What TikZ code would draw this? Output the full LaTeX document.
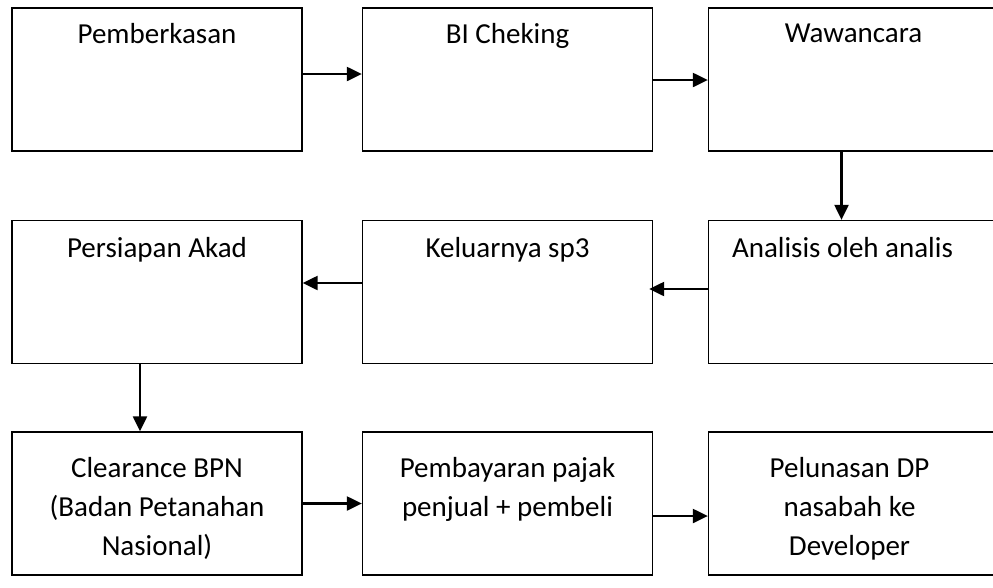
\documentclass[tikz,border=0pt]{standalone}
\usepackage{fontspec}
\setmainfont{Carlito}
\usetikzlibrary{arrows.meta}

\tikzset{
  stepbox/.style={draw=black, line width=1.3pt, minimum width=290pt, minimum height=143pt, inner sep=0pt},
  steptext/.style={anchor=north, inner sep=0pt, align=center, font=\fontsize{29}{39}\selectfont},
  arr/.style={line width=2.2pt, -{Triangle[length=15pt,width=14pt]}}
}

\begin{document}
\begin{tikzpicture}[x=1pt, y=-1pt]
  \useasboundingbox (0,0) rectangle (993,587);
  \clip (0,0) rectangle (993,587);

  % first row
  \node[stepbox] (b1) at (157,79.5) {};
  \node[stepbox] (b2) at (507.5,79.5) {};
  \node[stepbox] (b3) at (853.5,79.5) {};
  % second row
  \node[stepbox] (b4) at (157,292) {};
  \node[stepbox] (b5) at (507.5,292) {};
  \node[stepbox] (b6) at (853.5,292) {};
  % third row
  \node[stepbox] (b7) at (157,503.5) {};
  \node[stepbox] (b8) at (507.5,503.5) {};
  \node[stepbox] (b9) at (853.5,503.5) {};

  % labels
  \node[steptext] (t1) at ([yshift=-16pt]b1.north) {Pemberkasan};
  \node[steptext] (t2) at ([yshift=-16pt]b2.north) {BI Cheking};
  \node[steptext] (t3) at ([yshift=-16pt]b3.north) {Wawancara};
  \node[steptext] (t4) at ([yshift=-17pt]b4.north) {Persiapan Akad};
  \node[steptext] (t5) at ([yshift=-17pt]b5.north) {Keluarnya sp3};
  \node[steptext] (t6) at ([xshift=-11pt,yshift=-17pt]b6.north) {Analisis oleh analis};
  \node[steptext] (t7) at ([yshift=-26pt]b7.north) {Clearance BPN\\(Badan Petanahan\\Nasional)};
  \node[steptext] (t8) at ([yshift=-26pt]b8.north) {Pembayaran pajak\\penjual + pembeli};
  \node[steptext] (t9) at ([xshift=-4pt,yshift=-26pt]b9.north) {Pelunasan DP\\nasabah ke\\Developer};

  % connectors
  \draw[arr] ([yshift=5.5pt]b1.east) -- ([yshift=5.5pt]b2.west);
  \draw[arr] ([yshift=-0.5pt]b2.east) -- ([yshift=-0.5pt]b3.west);
  \draw[arr] ([xshift=-12pt]b3.south) -- ([xshift=-12pt]b6.north);
  \draw[arr] ([yshift=3pt]b6.west) -- ([xshift=-4pt,yshift=3pt]b5.east);
  \draw[arr] ([yshift=9pt]b5.west) -- ([yshift=9pt]b4.east);
  \draw[arr] ([xshift=-17pt]b4.south) -- ([xshift=-17pt]b7.north);
  \draw[arr] (b7.east) -- (b8.west);
  \draw[arr] ([yshift=-12.5pt]b8.east) -- ([yshift=-12.5pt]b9.west);
\end{tikzpicture}
\end{document}
